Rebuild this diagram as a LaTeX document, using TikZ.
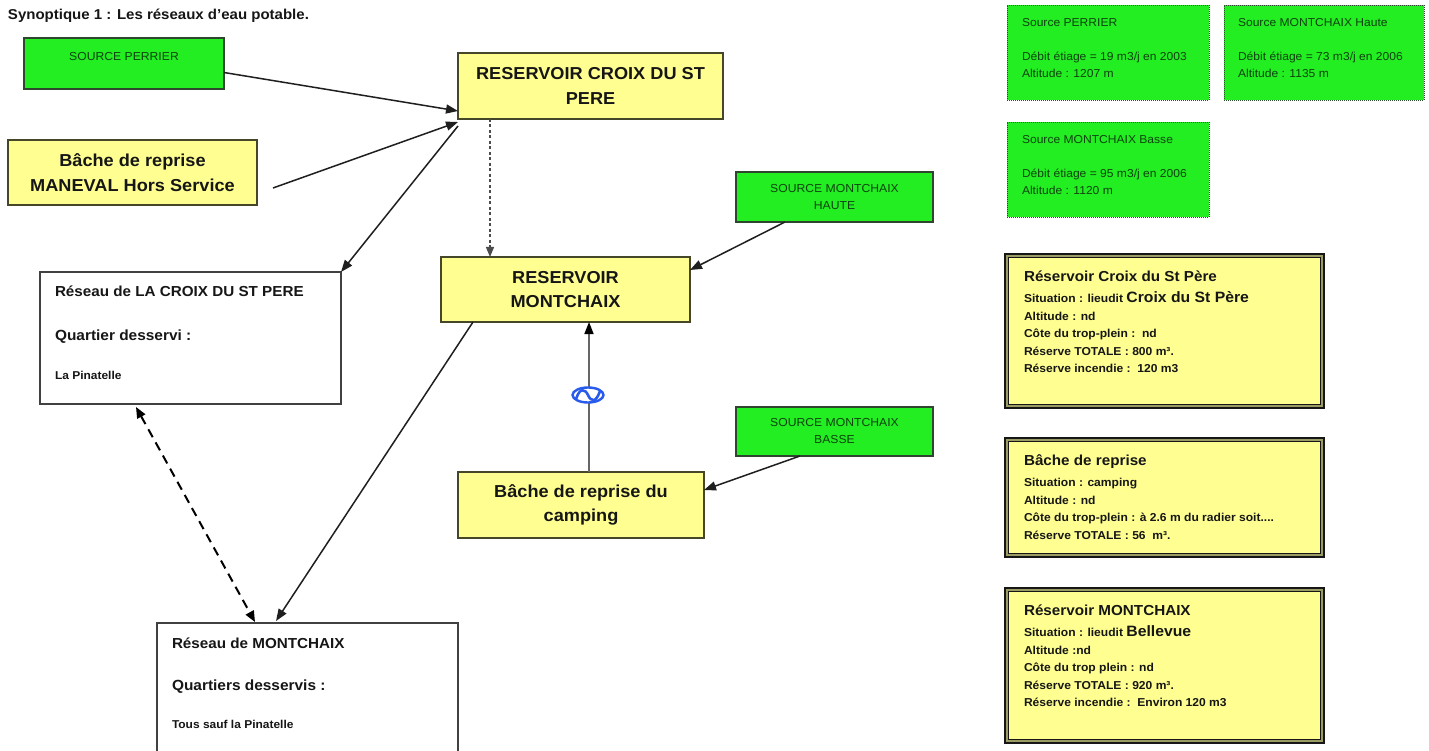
\documentclass[tikz,border=0pt]{standalone}
\usepackage{fontspec}
\setmainfont{Liberation Sans}[FakeStretch=1.05]
\usetikzlibrary{arrows.meta}
\definecolor{srcgreen}{RGB}{34,238,34}
\definecolor{srcborder}{RGB}{45,70,45}
\definecolor{srctext}{RGB}{15,65,15}
\definecolor{yfill}{RGB}{255,255,145}
\definecolor{yborder}{RGB}{70,70,40}
\definecolor{inkdark}{RGB}{22,22,22}
\definecolor{bandcol}{RGB}{155,155,100}
\definecolor{netborder}{RGB}{65,65,65}
\definecolor{pumpblue}{RGB}{40,90,235}
\newcommand\myfs[2]{\fontsize{#1pt}{#2pt}\selectfont}
\begin{document}
\begin{tikzpicture}[x=1pt,y=-1pt,
  every node/.style={inner sep=0pt,outer sep=0pt,text=inkdark},
  srcbox/.style={draw=srcborder,fill=srcgreen,line width=1.6pt,anchor=north west},
  srclabel/.style={text=srctext,font=\myfs{11.6}{17},align=center,anchor=north},
  bigbox/.style={draw=yborder,fill=yfill,line width=1.5pt,anchor=north west,align=center,font=\bfseries\myfs{17.3}{24.5}},
  netbox/.style={draw=netborder,fill=white,line width=1.4pt,anchor=north west},
  nethead/.style={anchor=base west,font=\bfseries\myfs{14.5}{16}},
  netsub/.style={anchor=base west,font=\bfseries\myfs{14.7}{16}},
  netsmall/.style={anchor=base west,font=\bfseries\myfs{11.4}{12}},
  gbox/.style={draw=srcborder,fill=srcgreen,line width=0.9pt,dash pattern=on 1pt off 1pt,anchor=north west,minimum width=202,minimum height=95},
  gline/.style={anchor=base west,text=srctext,font=\myfs{11.5}{12}},
  ibox/.style={fill=yfill,anchor=north west,minimum width=321},
  ihead/.style={anchor=base west,font=\bfseries\myfs{14.5}{16}},
  iline/.style={anchor=base west,font=\bfseries\myfs{11.5}{12}},
  arr/.style={draw=black!88,line width=1.5pt,-{Triangle[length=12pt,width=9pt]}},
  dasharr/.style={draw=black!70,line width=1.2pt,dash pattern=on 3pt off 2.5pt,-{Triangle[length=10pt,width=8pt]}},
  pipe/.style={draw=black!60,line width=1.6pt,-{Triangle[length=12pt,width=9pt,color=black]}},
  bidash/.style={draw=black,line width=2pt,dash pattern=on 9pt off 6pt,{Triangle[length=11pt,width=9pt]}-{Triangle[length=11pt,width=9pt]}}
]
\clip (0,0) rectangle (1429,751);
\fill[white] (0,0) rectangle (1429,751);

% title
\node[anchor=base west,font=\bfseries\myfs{14.3}{16}] (title) at (8,20) {Synoptique 1 : Les réseaux d'eau potable.};

% green sources
\node[srcbox,minimum width=200,minimum height=51] (srcP) at (24,38) {};
\node[srclabel] (srcPt) at ([yshift=-14pt]srcP.north) {SOURCE PERRIER};
\node[srcbox,minimum width=197,minimum height=50] (srcMH) at (736,172) {};
\node[srclabel] (srcMHt) at ([yshift=-12pt]srcMH.north) {SOURCE MONTCHAIX\\HAUTE};
\node[srcbox,minimum width=197,minimum height=49] (srcMB) at (736,407) {};
\node[srclabel] (srcMBt) at ([yshift=-11pt]srcMB.north) {SOURCE MONTCHAIX\\BASSE};

% yellow boxes
\node[bigbox,minimum width=249,minimum height=65] (maneval) at (8,140) {Bâche de reprise\\MANEVAL Hors Service};
\node[bigbox,minimum width=265,minimum height=66] (rcroix) at (458,53) {RESERVOIR CROIX DU ST\\PERE};
\node[bigbox,minimum width=249,minimum height=65] (rmont) at (441,257) {RESERVOIR\\MONTCHAIX};
\node[bigbox,minimum width=246,minimum height=66] (bcamp) at (458,472) {Bâche de reprise du\\camping};

% network boxes
\node[netbox,minimum width=301,minimum height=132] (netC) at (40,272) {};
\node[nethead] (netC1) at (55,297) {Réseau de LA CROIX DU ST PERE};
\node[netsub] (netC2) at (55,340) {Quartier desservi :};
\node[netsmall] (netC3) at (55,379) {La Pinatelle};
\node[netbox,minimum width=301,minimum height=150] (netM) at (157,623) {};
\node[nethead] (netM1) at (172,648) {Réseau de MONTCHAIX};
\node[netsub] (netM2) at (172,690) {Quartiers desservis :};
\node[netsmall] (netM3) at (172,728) {Tous sauf la Pinatelle};

% connectors
\draw[arr] ([yshift=-9pt]srcP.east) -- ([yshift=8pt]rcroix.south west);
\draw[arr] ([xshift=16pt,yshift=-15.5pt]maneval.east) -- ([yshift=-3pt]rcroix.south west);
\draw[arr] ([yshift=-7pt]rcroix.south west) -- (netC.north east);
\draw[dasharr] ([xshift=32pt]rcroix.south west) -- ([xshift=49pt]rmont.north west);
\draw[arr] ([xshift=49pt]srcMH.south west) -- ([yshift=-13pt]rmont.north east);
\draw[pipe] ([xshift=131pt]bcamp.north west) -- ([xshift=148pt]rmont.south west);
\draw[arr] ([xshift=64pt]srcMB.south west) -- ([yshift=-18pt]bcamp.north east);
\draw[arr] ([xshift=32pt]rmont.south west) -- ([xshift=119pt,yshift=2pt]netM.north west);
\draw[bidash] ([xshift=96pt,yshift=-3pt]netC.south west) -- ([xshift=98pt,yshift=1pt]netM.north west);

% pump symbol
\draw[pumpblue,line width=2.4pt,fill=white] (588,395) ellipse [x radius=15.5,y radius=7.5];
\draw[pumpblue,line width=2.6pt] (576,399) .. controls (580,387) and (585,389) .. (588,395) .. controls (591,402) and (596,403) .. (600,391);

% right: green info boxes
\node[gbox] (g1) at (1007,5) {};
\node[gline] (g1a) at (1022,27) {Source PERRIER};
\node[gline] (g1b) at (1022,61) {Débit étiage = 19 m3/j en 2003};
\node[gline] (g1c) at (1022,77.5) {Altitude : 1207 m};
\node[gbox,minimum width=200] (g2) at (1224,5) {};
\node[gline] (g2a) at (1238,27) {Source MONTCHAIX Haute};
\node[gline] (g2b) at (1238,61) {Débit étiage = 73 m3/j en 2006};
\node[gline] (g2c) at (1238,77.5) {Altitude : 1135 m};
\node[gbox] (g3) at (1007,122) {};
\node[gline] (g3a) at (1022,144) {Source MONTCHAIX Basse};
\node[gline] (g3b) at (1022,178) {Débit étiage = 95 m3/j en 2006};
\node[gline] (g3c) at (1022,194.5) {Altitude : 1120 m};

% right: yellow info boxes
\node[ibox,minimum height=156] (ib1) at (1004,253) {};
\node[ibox,minimum height=121] (ib2) at (1004,437) {};
\node[ibox,minimum height=157] (ib3) at (1004,587) {};
\foreach \b in {ib1,ib2,ib3}{
  \draw[bandcol,line width=4.5pt] ([shift={(3,3)}]\b.north west) rectangle ([shift={(-3,-3)}]\b.south east);
  \draw[inkdark,line width=2.2pt] ([shift={(1.1,1.1)}]\b.north west) rectangle ([shift={(-1.1,-1.1)}]\b.south east);
  \draw[inkdark,line width=1.2pt] ([shift={(4.8,4.8)}]\b.north west) rectangle ([shift={(-4.8,-4.8)}]\b.south east);
}
\node[ihead] (ib1a) at (1024,281) {Réservoir Croix du St Père};
\node[iline] (ib1b) at (1024,302.5) {Situation : lieudit {\myfs{15}{16}Croix du St Père}};
\node[iline] (ib1c) at (1024,320) {Altitude : nd};
\node[iline] (ib1d) at (1024,337.5) {Côte du trop-plein :\ \ nd};
\node[iline] (ib1e) at (1024,355) {Réserve TOTALE : 800 m³.};
\node[iline] (ib1f) at (1024,372) {Réserve incendie :\ \ 120 m3};

\node[ihead] (ib2a) at (1024,465) {Bâche de reprise};
\node[iline] (ib2b) at (1024,486.5) {Situation : camping};
\node[iline] (ib2c) at (1024,504) {Altitude : nd};
\node[iline] (ib2d) at (1024,521.5) {Côte du trop-plein : à 2.6 m du radier soit....};
\node[iline] (ib2e) at (1024,539) {Réserve TOTALE : 56\ \ m³.};

\node[ihead] (ib3a) at (1024,615) {Réservoir MONTCHAIX};
\node[iline] (ib3b) at (1024,636.5) {Situation : lieudit {\myfs{15}{16}Bellevue}};
\node[iline] (ib3c) at (1024,654) {Altitude :nd};
\node[iline] (ib3d) at (1024,671.5) {Côte du trop plein : nd};
\node[iline] (ib3e) at (1024,689) {Réserve TOTALE : 920 m³.};
\node[iline] (ib3f) at (1024,706) {Réserve incendie :\ \ Environ 120 m3};
\end{tikzpicture}
\end{document}
